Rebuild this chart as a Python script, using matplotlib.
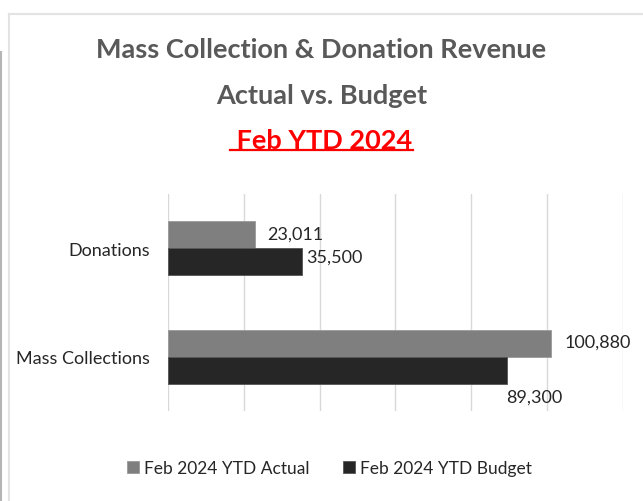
import matplotlib
matplotlib.use("Agg")
import matplotlib.pyplot as plt
from matplotlib.lines import Line2D

categories = ["Mass Collections", "Donations"]
actual = [100880, 23011]
budget = [89300, 35500]
series_names = ["Feb 2024 YTD Actual", "Feb 2024 YTD Budget"]

C_ACT = "#7f7f7f"
C_BUD = "#262626"
FONT = ["Lato", "DejaVu Sans"]

fig = plt.figure(figsize=(6.43, 5.02), dpi=100)
ax = fig.add_axes([0.261, 0.179, 0.708, 0.433])

h = 0.25
y = range(len(categories))
ax.barh([i + h / 2 for i in y], actual, height=h, color=C_ACT, edgecolor="#9a9a9a", lw=0.6, label=series_names[0], zorder=3)
ax.barh([i - h / 2 for i in y], budget, height=h, color=C_BUD, edgecolor="#555555", lw=0.6, label=series_names[1], zorder=3)

ax.set_xlim(0, 120000)
ax.set_ylim(-0.5, 1.5)
ax.set_xticks(range(0, 120001, 20000))
ax.xaxis.grid(True, color="#d9d9d9", lw=1)
ax.tick_params(axis="x", length=0, labelbottom=False)
ax.tick_params(axis="y", length=0, pad=13)
ax.set_yticks(list(y))
ax.set_yticklabels(categories, family=FONT, fontsize=13, color="#262626")
for s in ax.spines.values():
    s.set_visible(False)

# data labels (Excel-style placement)
offs_act = [(10, 1), (9, 1)]
offs_bud = [(0, -19), (3, 4)]
for i in y:
    ax.annotate(f"{actual[i]:,}", (actual[i], i + h / 2), xytext=offs_act[i], textcoords="offset points",
                ha="left", va="center", family=FONT, fontsize=13, color="#262626")
    ax.annotate(f"{budget[i]:,}", (budget[i], i - h / 2), xytext=offs_bud[i], textcoords="offset points",
                ha="left", va="center", family=FONT, fontsize=13, color="#262626")

leg = fig.legend(loc="center", bbox_to_anchor=(0.512, 0.066), ncol=2, frameon=False,
                 prop={"family": FONT, "size": 12.5}, handlelength=0.7, handleheight=0.7,
                 handletextpad=0.3, columnspacing=1.9)
for t in leg.get_texts():
    t.set_color("#262626")

# titles
fig.text(0.5, 0.90, "Mass Collection & Donation Revenue", ha="center", va="center",
         fontsize=19.5, fontweight="bold", color="#595959", family=FONT)
fig.text(0.5, 0.808, "Actual vs. Budget", ha="center", va="center",
         fontsize=19.5, fontweight="bold", color="#595959", family=FONT)
sub = fig.text(0.5, 0.72, " Feb YTD 2024", ha="center", va="center",
               fontsize=19.5, fontweight="bold", color="#ff0000", family=FONT)

fig.canvas.draw()
bb = sub.get_window_extent().transformed(fig.transFigure.inverted())
fig.add_artist(Line2D([bb.x0, bb.x1], [bb.y0 + 0.004, bb.y0 + 0.004], color="#ff0000", lw=1.6))

# chart frame remnants
fig.add_artist(Line2D([0.014, 0.014], [0.0, 0.97], color="#e3e3e3", lw=1.5))
fig.add_artist(Line2D([0.014, 1.0], [0.97, 0.97], color="#e3e3e3", lw=1.5))
fig.add_artist(Line2D([0.001, 0.001], [0.0, 0.895], color="#b5b5b5", lw=1.5))

fig.savefig("out.png", dpi=100)
